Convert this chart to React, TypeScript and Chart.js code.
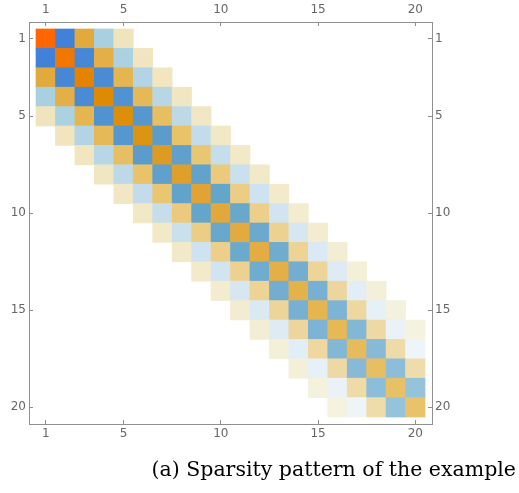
import { useEffect, useRef } from 'react';
import { Chart, registerables } from 'chart.js';

Chart.register(...registerables);

// ---- data ----
const N = 20;
const TICK_VALUES = [1, 5, 10, 15, 20];
const CAPTION = '(a) Sparsity pattern of the example';

// matrix is symmetric and banded: band k holds entries (i, i+k)
const diagonal = [1.0, 0.92, 0.87, 0.83, 0.79, 0.74, 0.7, 0.67, 0.64, 0.61, 0.59, 0.57, 0.555, 0.54, 0.525, 0.505, 0.49, 0.47, 0.455, 0.44];
const band1 = [-0.95, -0.89, -0.85, -0.8, -0.76, -0.72, -0.69, -0.67, -0.65, -0.63, -0.61, -0.595, -0.575, -0.555, -0.53, -0.505, -0.485, -0.465, -0.43];
const band2 = [0.6, 0.555, 0.525, 0.5, 0.47, 0.445, 0.42, 0.385, 0.36, 0.34, 0.325, 0.31, 0.295, 0.28, 0.27, 0.255, 0.245, 0.23];
const band3 = [-0.35, -0.335, -0.315, -0.295, -0.275, -0.255, -0.24, -0.225, -0.205, -0.19, -0.175, -0.16, -0.14, -0.12, -0.1, -0.08, -0.06];
const band4 = [0.15, 0.145, 0.14, 0.135, 0.13, 0.125, 0.12, 0.115, 0.11, 0.1, 0.095, 0.09, 0.08, 0.075, 0.065, 0.055];

// ---- styles ----
const POS_STOPS: [number, string][] = [
  [0, '#ffffff'], [0.05, '#f5f3e2'], [0.15, '#f0e4bc'], [0.25, '#eedaa6'], [0.35, '#ecce88'],
  [0.45, '#e8c268'], [0.55, '#e4b048'], [0.65, '#e0a232'], [0.75, '#dc9410'], [0.85, '#e08800'],
  [0.92, '#f07800'], [1.0, '#ff6600'],
];
const NEG_STOPS: [number, string][] = [
  [0, '#ffffff'], [0.05, '#f0f6fa'], [0.15, '#dceaf4'], [0.25, '#c4dcea'], [0.35, '#a8d0e0'],
  [0.45, '#90c0da'], [0.55, '#78b0d2'], [0.65, '#64a6ca'], [0.75, '#5898ce'], [0.85, '#4a8cd4'],
  [1.0, '#3c7cda'],
];
const FRAME = '#8f8f8f';
const LABEL = '#666666';
const LO = 0.14;
const HI = 20.86;

function hexToRgb(h: string) {
  return [parseInt(h.slice(1, 3), 16), parseInt(h.slice(3, 5), 16), parseInt(h.slice(5, 7), 16)];
}
function interp(stops: [number, string][], t: number) {
  const v = Math.max(0, Math.min(1, t));
  for (let s = 1; s < stops.length; s++) {
    if (v <= stops[s][0]) {
      const [t0, c0] = stops[s - 1];
      const [t1, c1] = stops[s];
      const f = (v - t0) / (t1 - t0);
      const a = hexToRgb(c0);
      const b = hexToRgb(c1);
      const c = a.map((x, k) => Math.round(x + (b[k] - x) * f));
      return `rgb(${c[0]},${c[1]},${c[2]})`;
    }
  }
  return stops[stops.length - 1][1];
}
function cellColor(v: number) {
  return v >= 0 ? interp(POS_STOPS, v) : interp(NEG_STOPS, -v);
}

const bands = [diagonal, band1, band2, band3, band4];

function buildCells() {
  const cells: { x: [number, number]; y: number; v: number }[] = [];
  for (let i = 1; i <= N; i++) {
    for (let j = 1; j <= N; j++) {
      const k = Math.abs(i - j);
      if (k < bands.length) {
        cells.push({ x: [j - 0.5, j + 0.5], y: i, v: bands[k][Math.min(i, j) - 1] });
      }
    }
  }
  return cells;
}

function makeAxis(axis: 'x' | 'y', position: string, reverse: boolean, size: number, pad: number) {
  return {
    type: 'linear' as const,
    axis,
    position,
    reverse,
    min: LO,
    max: HI,
    offset: false,
    afterBuildTicks: (s: any) => {
      s.ticks = TICK_VALUES.map((value) => ({ value }));
    },
    afterFit: (s: any) => {
      if (axis === 'x') s.height = size;
      else s.width = size;
    },
    grid: {
      drawOnChartArea: false,
      drawTicks: true,
      tickLength: -4,
      color: FRAME,
      tickColor: FRAME,
      lineWidth: 1,
      offset: false,
    },
    border: { display: true, color: FRAME, width: 1 },
    ticks: {
      color: LABEL,
      font: { family: "'DejaVu Sans', sans-serif", size: 12 },
      padding: pad,
      autoSkip: false,
      maxRotation: 0,
      callback: (v: any) => String(v),
    },
  };
}

export default function App() {
  const ref = useRef<HTMLCanvasElement | null>(null);
  useEffect(() => {
    if (!ref.current) return;
    const titleFont = 20.5;
    const titleLH = 1.2;
    const titlePadTop = 4;
    const titlePadBottom = 10;
    const titleH = titlePadTop + titlePadBottom + titleFont * titleLH;
    const chart = new Chart(ref.current, {
      type: 'bar',
      data: {
        datasets: [
          {
            data: buildCells() as any,
            backgroundColor: (ctx: any) => cellColor(ctx.raw ? ctx.raw.v : 0),
            borderWidth: 0,
            barPercentage: 1,
            categoryPercentage: 1,
            grouped: false,
          } as any,
        ],
      },
      options: {
        indexAxis: 'y',
        animation: false,
        responsive: true,
        maintainAspectRatio: false,
        layout: { padding: { left: 0, right: 3, top: 0, bottom: 0 } },
        plugins: {
          legend: { display: false },
          tooltip: { enabled: false },
          title: {
            display: true,
            text: CAPTION,
            position: 'bottom',
            align: 'end',
            color: '#000000',
            font: { family: "'DejaVu Serif', serif", size: titleFont, weight: 'normal', lineHeight: titleLH },
            padding: { top: titlePadTop, bottom: titlePadBottom },
          },
        },
        scales: {
          x: makeAxis('x', 'bottom', false, 493 - 424 - titleH, 7),
          x2: makeAxis('x', 'top', false, 22, 9),
          y: makeAxis('y', 'left', true, 29, 7),
          y2: makeAxis('y', 'right', true, 516 - 432, 7),
        } as any,
      } as any,
    });
    return () => chart.destroy();
  }, []);
  return (
    <div style={{ position: 'absolute', left: 0, top: 0, width: 519, height: 493 }}>
      <canvas ref={ref} />
    </div>
  );
}
